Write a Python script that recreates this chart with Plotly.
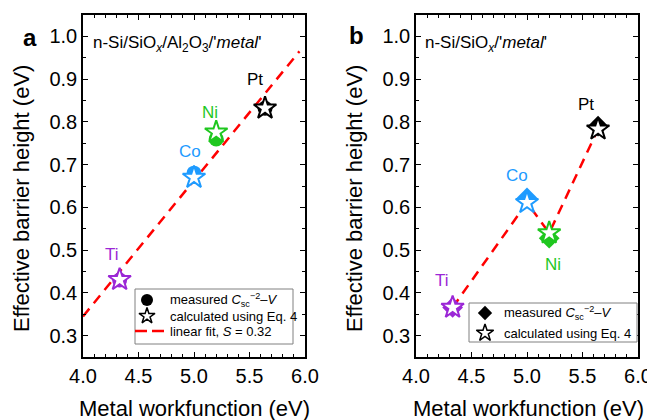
import plotly.graph_objects as go

FONT = "Liberation Sans, Arial, sans-serif"

metals = ["Ti", "Co", "Ni", "Pt"]
colors = ["#9B27D6", "#1E9BFF", "#1FC71F", "#000000"]
workfunction = [4.33, 5.0, 5.2, 5.64]

# panel a: n-Si/SiOx/Al2O3/metal
a_measured = [0.43, 0.68, 0.76, 0.832]
a_calc = [0.431, 0.67, 0.776, 0.832]
a_fit_x = [4.0, 5.95]
a_fit_y = [0.345, 0.965]
a_label_x = [4.26, 4.96, 5.14, 5.55]
a_label_y = [0.49, 0.73, 0.823, 0.90]

# panel b: n-Si/SiOx/metal
b_measured = [0.366, 0.622, 0.528, 0.79]
b_calc = [0.366, 0.611, 0.54, 0.783]
b_label_x = [4.23, 4.91, 5.23, 5.53]
b_label_y = [0.43, 0.674, 0.467, 0.841]

x_ticks = [4.0, 4.5, 5.0, 5.5, 6.0]
y_ticks = [0.3, 0.4, 0.5, 0.6, 0.7, 0.8, 0.9, 1.0]

legend_a_text = ["measured <i>C</i><sub>sc</sub><sup>−2</sup>–<i>V</i>",
                 "calculated using Eq. 4",
                 "linear fit, <i>S</i> = 0.32"]
legend_b_text = ["measured <i>C</i><sub>sc</sub><sup>−2</sup>–<i>V</i>",
                 "calculated using Eq. 4"]

# page has an 8px body margin; work in screen pixels
OFF = 8
W, H = 655 - OFF, 420 - OFF
def fx(p):
    return (p - OFF) / W
def fy(p):
    return 1 - (p - OFF) / H

RED_DASH = dict(color="#FF0000", width=2.5, dash="10px,7px")

fig = go.Figure()

# ---- panel a ----
fig.add_trace(go.Scatter(x=a_fit_x, y=a_fit_y, mode="lines", xaxis="x", yaxis="y",
                         line=RED_DASH, showlegend=False, hoverinfo="skip"))
fig.add_trace(go.Scatter(x=workfunction, y=a_measured, mode="markers", xaxis="x", yaxis="y",
                         marker=dict(symbol="circle", size=15, color=colors, line=dict(width=0)),
                         showlegend=False))
fig.add_trace(go.Scatter(x=workfunction, y=a_calc, mode="markers", xaxis="x", yaxis="y",
                         marker=dict(symbol="star", size=17, color="white",
                                     line=dict(width=2, color=colors)),
                         showlegend=False))

# ---- panel b ----
fig.add_trace(go.Scatter(x=workfunction, y=b_calc, mode="lines", xaxis="x2", yaxis="y2",
                         line=RED_DASH, showlegend=False, hoverinfo="skip"))
fig.add_trace(go.Scatter(x=workfunction, y=b_measured, mode="markers", xaxis="x2", yaxis="y2",
                         marker=dict(symbol="diamond", size=16, color=colors, line=dict(width=0)),
                         showlegend=False))
fig.add_trace(go.Scatter(x=workfunction, y=b_calc, mode="markers", xaxis="x2", yaxis="y2",
                         marker=dict(symbol="star", size=17, color="white",
                                     line=dict(width=2, color=colors)),
                         showlegend=False))

# ---- hand-made legends on an overlay axis measured in screen pixels ----
fig.add_trace(go.Scatter(x=[147], y=[300], mode="markers", xaxis="x3", yaxis="y3",
                         marker=dict(symbol="circle", size=12, color="black"),
                         showlegend=False, hoverinfo="skip"))
fig.add_trace(go.Scatter(x=[147], y=[316], mode="markers", xaxis="x3", yaxis="y3",
                         marker=dict(symbol="star", size=12, color="white",
                                     line=dict(width=1.5, color="black")),
                         showlegend=False, hoverinfo="skip"))
fig.add_trace(go.Scatter(x=[135, 167], y=[331, 331], mode="lines", xaxis="x3", yaxis="y3",
                         line=dict(color="#FF0000", width=2.5, dash="12px,5px"),
                         showlegend=False, hoverinfo="skip"))
fig.add_trace(go.Scatter(x=[485], y=[313], mode="markers", xaxis="x3", yaxis="y3",
                         marker=dict(symbol="diamond", size=11, color="black"),
                         showlegend=False, hoverinfo="skip"))
fig.add_trace(go.Scatter(x=[485], y=[333], mode="markers", xaxis="x3", yaxis="y3",
                         marker=dict(symbol="star", size=13, color="white",
                                     line=dict(width=1.5, color="black")),
                         showlegend=False, hoverinfo="skip"))

shapes = [
    dict(type="rect", xref="x3", yref="y3", x0=135, x1=293, y0=289, y1=344,
         line=dict(color="#808080", width=1), fillcolor="white", layer="below"),
    dict(type="rect", xref="x3", yref="y3", x0=469, x1=637, y0=303, y1=342,
         line=dict(color="#808080", width=1), fillcolor="white", layer="below"),
]

annotations = []
for m, c, lx, ly in zip(metals, colors, a_label_x, a_label_y):
    annotations.append(dict(x=lx, y=ly, xref="x", yref="y", text=m, showarrow=False,
                            xanchor="center", yanchor="middle",
                            font=dict(family=FONT, size=17, color=c)))
for m, c, lx, ly in zip(metals, colors, b_label_x, b_label_y):
    annotations.append(dict(x=lx, y=ly, xref="x2", yref="y2", text=m, showarrow=False,
                            xanchor="center", yanchor="middle",
                            font=dict(family=FONT, size=17, color=c)))

for txt, yy in zip(legend_a_text, [300, 316, 331]):
    annotations.append(dict(x=fx(168), y=fy(yy), xref="paper", yref="paper", text=txt,
                            xanchor="left", yanchor="middle", showarrow=False,
                            font=dict(family=FONT, size=13, color="black")))
for txt, yy in zip(legend_b_text, [313, 333]):
    annotations.append(dict(x=fx(502), y=fy(yy), xref="paper", yref="paper", text=txt,
                            xanchor="left", yanchor="middle", showarrow=False,
                            font=dict(family=FONT, size=13, color="black")))

def label(x, y, text, size, angle=0, xanchor="center"):
    return dict(x=fx(x), y=fy(y), xref="paper", yref="paper", text=text, showarrow=False,
                xanchor=xanchor, yanchor="middle", textangle=angle,
                font=dict(family=FONT, size=size, color="black"))

annotations += [
    label(30, 38, "<b>a</b>", 24),
    label(356, 36, "<b>b</b>", 24),
    label(91, 44, "n-Si/SiO<sub><i>x</i></sub>/Al<sub>2</sub>O<sub>3</sub>/'<i>metal</i>'", 17, xanchor="left"),
    label(423, 44, "n-Si/SiO<sub><i>x</i></sub>/'<i>metal</i>'", 17, xanchor="left"),
    label(21, 199, "Effective barrier height (eV)", 22, angle=-90),
    label(354, 199, "Effective barrier height (eV)", 22, angle=-90),
    label(194, 408, "Metal workfunction (eV)", 22),
    label(528, 408, "Metal workfunction (eV)", 22),
]

def xaxis(domain, anchor):
    return dict(domain=domain, anchor=anchor, range=[4.0, 6.0], tickvals=x_ticks,
                tickformat=".1f", ticks="inside", ticklen=5, tickwidth=1.2, tickcolor="black",
                minor=dict(dtick=0.1, tick0=4.0, ticks="inside", ticklen=3, tickwidth=1, tickcolor="black"),
                showline=True, linecolor="black", linewidth=1.5, mirror="allticks",
                showgrid=False, zeroline=False, automargin=False, fixedrange=True,
                tickfont=dict(family=FONT, size=20, color="black"))

def yaxis(domain, anchor):
    return dict(domain=domain, anchor=anchor, range=[0.25, 1.05], tickvals=y_ticks,
                tickformat=".1f", ticks="inside", ticklen=5, tickwidth=1.2, tickcolor="black",
                minor=dict(dtick=0.05, tick0=0.25, ticks="inside", ticklen=3, tickwidth=1, tickcolor="black"),
                showline=True, linecolor="black", linewidth=1.5, mirror="allticks",
                showgrid=False, zeroline=False, automargin=False, fixedrange=True,
                tickfont=dict(family=FONT, size=20, color="black"))

ydom = [fy(357), fy(15)]
fig.update_layout(
    template="none",
    width=W, height=H, autosize=False,
    margin=dict(l=0, r=0, t=0, b=0, pad=0, autoexpand=False),
    paper_bgcolor="white", plot_bgcolor="rgba(0,0,0,0)",
    xaxis=xaxis([fx(83), fx(305)], "y"),
    yaxis=yaxis(ydom, "x"),
    xaxis2=xaxis([fx(416), fx(638)], "y2"),
    yaxis2=yaxis(ydom, "x2"),
    xaxis3=dict(domain=[0, 1], anchor="y3", range=[OFF, OFF + W], visible=False,
                fixedrange=True, automargin=False),
    yaxis3=dict(domain=[0, 1], anchor="x3", range=[OFF + H, OFF], visible=False,
                fixedrange=True, automargin=False),
    shapes=shapes,
    annotations=annotations,
    showlegend=False,
)

fig.write_html("out.html")
